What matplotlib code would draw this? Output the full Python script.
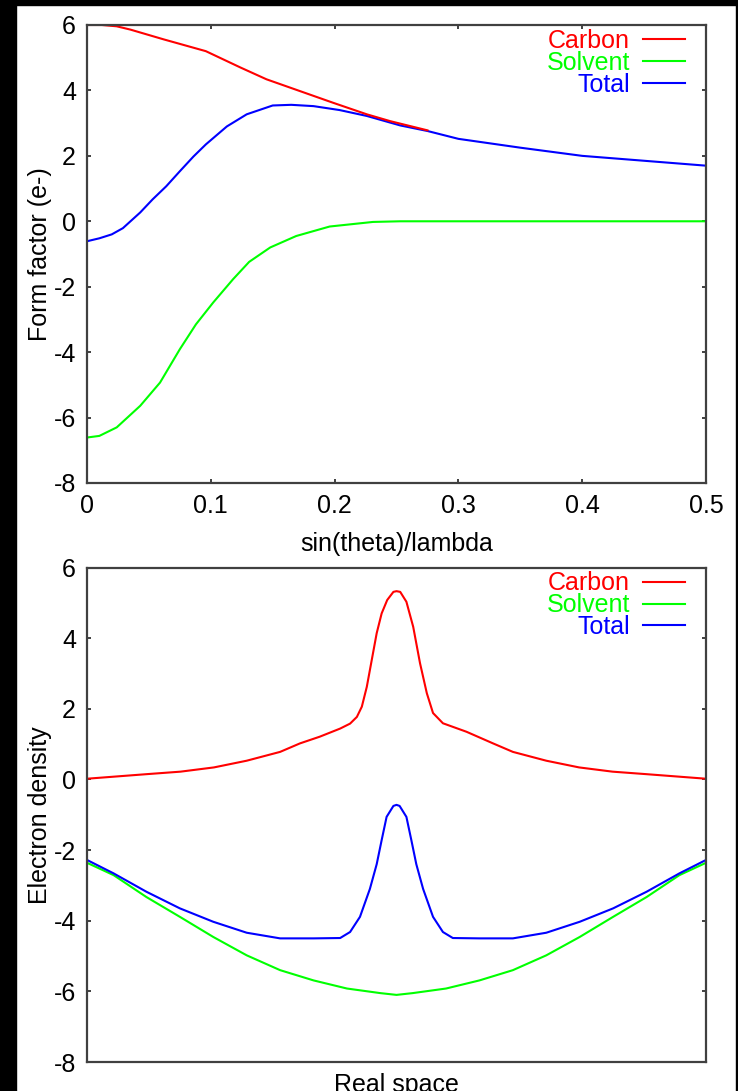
import matplotlib
matplotlib.use("Agg")
import matplotlib.pyplot as plt
from matplotlib.patches import Rectangle

plt.rcParams['font.family'] = ['Liberation Sans', 'DejaVu Sans']
plt.rcParams['axes.unicode_minus'] = False

# ---- form factor (reciprocal space) ----
carbon_s = [0, 0.012, 0.024, 0.035, 0.062, 0.096, 0.124, 0.145, 0.172, 0.199, 0.226, 0.245, 0.275]
carbon_f = [6.0, 6.0, 5.96, 5.86, 5.56, 5.2, 4.7, 4.34, 3.98, 3.62, 3.27, 3.06, 2.78]

solvent_s = [0, 0.010, 0.024, 0.043, 0.059, 0.075, 0.088, 0.102, 0.118, 0.131,
             0.148, 0.169, 0.196, 0.231, 0.253, 0.5]
solvent_f = [-6.61, -6.56, -6.3, -5.64, -4.93, -3.91, -3.15, -2.48, -1.77, -1.24,
             -0.80, -0.45, -0.16, -0.02, 0.0, 0.0]

total_s = [0, 0.010, 0.020, 0.029, 0.043, 0.053, 0.064, 0.075, 0.086, 0.096, 0.113, 0.129,
           0.150, 0.165, 0.183, 0.204, 0.226, 0.253, 0.275, 0.30, 0.35, 0.40, 0.45, 0.50]
total_f = [-0.61, -0.52, -0.40, -0.21, 0.27, 0.67, 1.07, 1.53, 1.98, 2.35, 2.9, 3.27,
           3.54, 3.56, 3.52, 3.40, 3.22, 2.93, 2.76, 2.52, 2.25, 2.0, 1.85, 1.70]

# ---- electron density (real space) ----
carbon_r = [0, 0.097, 0.151, 0.205, 0.258, 0.312, 0.344, 0.376, 0.409, 0.425, 0.436,
            0.444, 0.452, 0.460, 0.468, 0.476, 0.485, 0.495, 0.500, 0.506, 0.516,
            0.527, 0.538, 0.549, 0.559, 0.575, 0.613, 0.656, 0.688, 0.742, 0.795,
            0.849, 0.903, 1.0]
carbon_rho = [0.02, 0.15, 0.22, 0.34, 0.53, 0.78, 1.02, 1.21, 1.44, 1.58, 1.77,
              2.06, 2.62, 3.38, 4.14, 4.70, 5.08, 5.31, 5.33, 5.31, 5.03,
              4.32, 3.29, 2.44, 1.88, 1.59, 1.35, 1.02, 0.78, 0.53, 0.34,
              0.22, 0.15, 0.02]

solvent_r = [0, 0.043, 0.096, 0.150, 0.204, 0.258, 0.312, 0.366, 0.420, 0.474, 0.5,
             0.526, 0.580, 0.634, 0.688, 0.742, 0.796, 0.850, 0.904, 0.957, 1.0]
solvent_rho = [-2.36, -2.71, -3.33, -3.89, -4.46, -4.98, -5.40, -5.69, -5.92, -6.05, -6.10,
               -6.05, -5.92, -5.69, -5.40, -4.98, -4.46, -3.89, -3.33, -2.71, -2.36]

total_r = [0, 0.043, 0.096, 0.150, 0.204, 0.258, 0.312, 0.366, 0.409, 0.425, 0.441,
           0.457, 0.468, 0.476, 0.484, 0.495, 0.500, 0.505, 0.516, 0.524, 0.532,
           0.543, 0.559, 0.575, 0.591, 0.634, 0.688, 0.742, 0.796, 0.850, 0.904,
           0.957, 1.0]
total_rho = [-2.28, -2.66, -3.18, -3.65, -4.03, -4.34, -4.50, -4.50, -4.49, -4.32, -3.89,
             -3.1, -2.4, -1.72, -1.06, -0.75, -0.72, -0.75, -1.06, -1.72, -2.4,
             -3.1, -3.89, -4.32, -4.49, -4.50, -4.50, -4.34, -4.03, -3.65, -3.18,
             -2.66, -2.28]

y_ticks = [6, 4, 2, 0, -2, -4, -6, -8]
s_ticks = [0, 0.1, 0.2, 0.3, 0.4, 0.5]
s_ticklabels = ["0", "0.1", "0.2", "0.3", "0.4", "0.5"]

W, H = 738, 1091
fig = plt.figure(figsize=(W / 100, H / 100), dpi=100, facecolor="white")

# black frame strips round the picture
for x0, y0, w, h in [(0, 0, 16, H), (0, H - 5, W, 5), (W - 2, 0, 2, H)]:
    fig.patches.append(Rectangle((x0 / W, y0 / H), w / W, h / H,
                                 transform=fig.transFigure, color="black", zorder=0))

ax1 = fig.add_axes([87 / W, 1 - 483 / H, (706 - 87) / W, (483 - 25) / H])
ax2 = fig.add_axes([87 / W, 1 - 1062 / H, (706 - 87) / W, (1062 - 567.5) / H])

fs = 18
lw = 1.5
for ax in (ax1, ax2):
    for sp in ax.spines.values():
        sp.set_color("#404040")
        sp.set_linewidth(1.6)
    ax.set_ylim(-8, 6)
    ax.set_yticks(y_ticks)
    ax.tick_params(direction="in", length=3, width=1.2, color="#202020",
                   labelsize=fs, pad=8, right=True, top=True)

ax1.plot(total_s, total_f, color="#0000ff", lw=lw, label="Total")
ax1.plot(carbon_s, carbon_f, color="#ff0000", lw=lw, label="Carbon")
ax1.plot(solvent_s, solvent_f, color="#00ff00", lw=lw, label="Solvent")
ax1.set_xlim(0, 0.5)
ax1.set_xticks(s_ticks)
ax1.set_xticklabels(s_ticklabels)
ax1.set_xlabel("sin(theta)/lambda", fontsize=fs, labelpad=10)
ax1.set_ylabel("Form factor (e-)", fontsize=fs, labelpad=1)

ax2.plot(solvent_r, solvent_rho, color="#00ff00", lw=lw, label="Solvent")
ax2.plot(total_r, total_rho, color="#0000ff", lw=lw, label="Total")
ax2.plot(carbon_r, carbon_rho, color="#ff0000", lw=lw, label="Carbon")
ax2.set_xlim(0, 1)
ax2.set_xticks([])
ax2.set_xlabel("Real space", fontsize=fs, labelpad=8)
ax2.set_ylabel("Electron density", fontsize=fs, labelpad=1)

for ax in (ax1, ax2):
    handles, labels = ax.get_legend_handles_labels()
    order = [labels.index(n) for n in ("Carbon", "Solvent", "Total")]
    hgt = ax.get_position().height * H
    ax.legend([handles[i] for i in order], [labels[i] for i in order],
              loc="upper right", bbox_to_anchor=(1 - 21 / 619, 1 - 4 / hgt),
              frameon=False, markerfirst=False,
              labelcolor="linecolor", fontsize=fs, handlelength=1.7,
              handletextpad=0.5, labelspacing=-0.09, borderaxespad=0,
              borderpad=0)

fig.savefig("out.png", dpi=100, facecolor="white")
